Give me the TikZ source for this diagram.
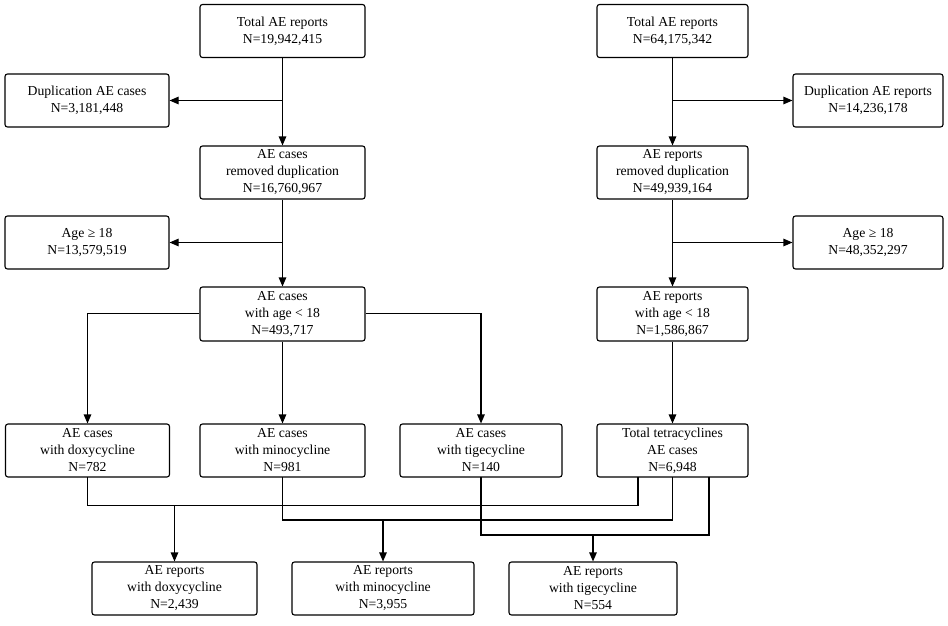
\documentclass[tikz,border=0pt]{standalone}
\usepackage{fontspec}
\setmainfont{Liberation Serif}
\usetikzlibrary{arrows.meta}
\begin{document}
\begin{tikzpicture}[x=1pt,y=-1pt,
  box/.style={draw=black, line width=1.1pt, rounded corners=2.5pt, align=center,
    font=\fontsize{13.7}{17}\selectfont, inner sep=0pt, minimum height=53pt},
  conn/.style={draw=black, line width=1.1pt},
  arr/.style={conn, -{Triangle[length=9pt,width=7.5pt]}}]
\useasboundingbox (0,0) rectangle (948,626);
% left column
\node[box, minimum width=165pt] (L1) at (282.5,31) {Total AE reports\\N=19,942,415};
\node[box, minimum width=164pt] (LD) at (87,100.5) {Duplication AE cases\\N=3,181,448};
\node[box, minimum width=165pt] (L2) at (282.5,172.5) {AE cases\\removed duplication\\N=16,760,967};
\node[box, minimum width=164pt] (LA) at (87,242.5) {Age ≥ 18\\N=13,579,519};
\node[box, minimum width=165pt, minimum height=54pt] (L3) at (282.5,314) {AE cases\\with age < 18\\N=493,717};
% right column
\node[box, minimum width=151pt] (R1) at (672.5,31) {Total AE reports\\N=64,175,342};
\node[box, minimum width=150pt] (RD) at (868,100.5) {Duplication AE reports\\N=14,236,178};
\node[box, minimum width=151pt] (R2) at (672.5,172.5) {AE reports\\removed duplication\\N=49,939,164};
\node[box, minimum width=150pt] (RA) at (868,242.5) {Age ≥ 18\\N=48,352,297};
\node[box, minimum width=151pt, minimum height=54pt] (R3) at (672.5,314) {AE reports\\with age < 18\\N=1,586,867};
% fourth row
\node[box, minimum width=164pt] (D1) at (87.5,450.5) {AE cases\\with doxycycline\\N=782};
\node[box, minimum width=165pt] (D2) at (282.5,450.5) {AE cases\\with minocycline\\N=981};
\node[box, minimum width=162pt] (D3) at (481,450.5) {AE cases\\with tigecycline\\N=140};
\node[box, minimum width=151pt] (D4) at (672.5,450.5) {Total tetracyclines\\AE cases\\N=6,948};
% bottom row
\node[box, minimum width=165pt] (B1) at (174.5,588.5) {AE reports\\with doxycycline\\N=2,439};
\node[box, minimum width=182pt] (B2) at (383,588.5) {AE reports\\with minocycline\\N=3,955};
\node[box, minimum width=168pt] (B3) at (593,588.5) {AE reports\\with tigecycline\\N=554};
% left column connectors
\draw[arr] (L1) -- (L2);
\coordinate (jL1) at (L1.south |- LD.east);
\draw[arr] (jL1) -- (LD.east);
\draw[arr] (L2) -- (L3);
\coordinate (jL2) at (L2.south |- LA.east);
\draw[arr] (jL2) -- (LA.east);
% right column connectors
\draw[arr] (R1) -- (R2);
\coordinate (jR1) at (R1.south |- RD.west);
\draw[arr] (jR1) -- (RD.west);
\draw[arr] (R2) -- (R3);
\coordinate (jR2) at (R2.south |- RA.west);
\draw[arr] (jR2) -- (RA.west);
\draw[arr] (R3) -- (D4);
% branches from L3
\coordinate (wL3) at (L3.west |- 0,313.5);
\coordinate (eL3) at (L3.east |- 0,313.5);
\draw[arr] (wL3) -| (D1.north);
\draw[arr] (L3) -- (D2);
\draw[arr] (eL3) -| (D3.north);
% bottom merging lines
\coordinate (d1b) at (87.5,477);
\coordinate (d2b) at (282.5,477);
\coordinate (d3b) at (481,477);
\coordinate (t1) at (638,477);
\coordinate (t2) at (672.5,477);
\coordinate (t3) at (709,477);
\draw[conn] (d1b) |- (638,505.5) -- (t1);
\draw[conn] (d2b) |- (672.5,520) -- (t2);
\draw[conn] (d3b) |- (709,535) -- (t3);
\coordinate (m1) at (174.5,505.5);
\coordinate (m2) at (383,520);
\coordinate (m3) at (593,535);
\draw[arr] (m1) -- (B1.north);
\draw[arr] (m2) -- (B2.north);
\draw[arr] (m3) -- (B3.north);
\end{tikzpicture}
\end{document}
